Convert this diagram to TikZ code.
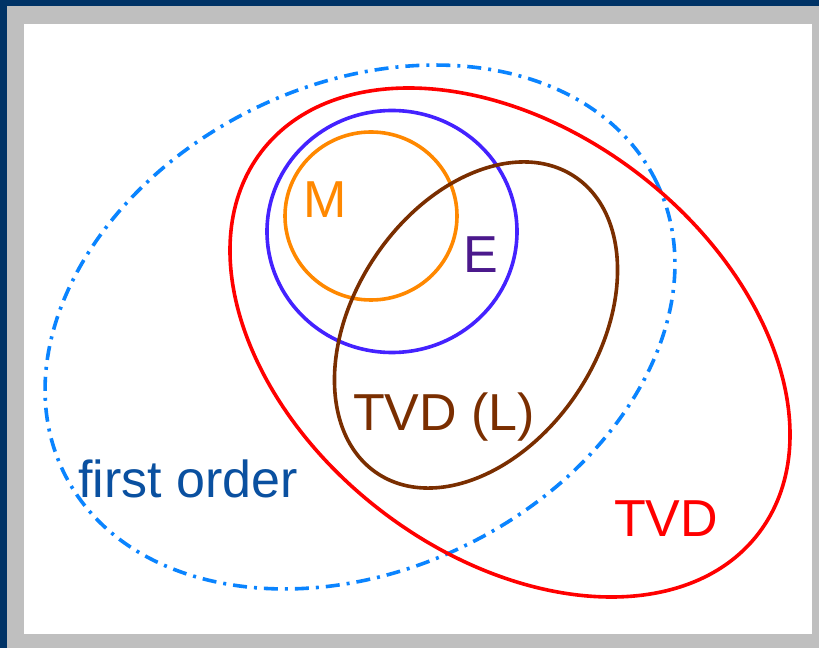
\documentclass[tikz,border=0pt]{standalone}
\usepackage{fontspec}
\setmainfont{Liberation Sans}
\definecolor{navy}{RGB}{0,51,102}
\definecolor{framegray}{RGB}{191,191,191}
\definecolor{dashblue}{RGB}{10,132,255}
\definecolor{eblue}{RGB}{68,34,255}
\definecolor{morange}{RGB}{255,136,0}
\definecolor{tbrown}{RGB}{122,46,0}
\definecolor{epurple}{RGB}{75,25,140}
\definecolor{fotext}{RGB}{10,80,160}
\definecolor{tvdred}{RGB}{255,0,0}
\begin{document}
\begin{tikzpicture}[x=1pt,y=1pt,
  setline/.style={line width=3.6pt},
  setlabel/.style={anchor=base west,inner sep=0pt,font=\fontsize{52}{62}\selectfont}]
\useasboundingbox (0,0) rectangle (819,648);
% frame
\fill[navy] (0,0) rectangle (819,648);
\fill[framegray] (7,0) rectangle (819,642);
\fill[white] (24,14) rectangle (812,624);
% sets
\draw[setline,dashblue,dash pattern=on 14pt off 7pt on 3pt off 7pt]
  (360,321) ellipse [x radius=330,y radius=242.6,rotate=26.2];
\draw[setline,tvdred] (510,305.5) ellipse [x radius=313.4,y radius=212,rotate=-37.6];
\draw[setline,eblue] (392,416.5) ellipse [x radius=125,y radius=121];
\draw[setline,morange] (371,432) ellipse [x radius=86,y radius=84];
\draw[setline,tbrown] (476,323) ellipse [x radius=178.2,y radius=121.9,rotate=56.4];
% labels
\node[setlabel,text=morange] (m) at (303,430) {M};
\node[setlabel,text=epurple] (e) at (463,375) {E};
\node[setlabel,text=tbrown] (tvdl) at (353,217) {TVD (L)};
\node[setlabel,text=fotext] (fo) at (78,150) {first order};
\node[setlabel,text=tvdred] (tvd) at (614,111) {TVD};
\end{tikzpicture}
\end{document}
